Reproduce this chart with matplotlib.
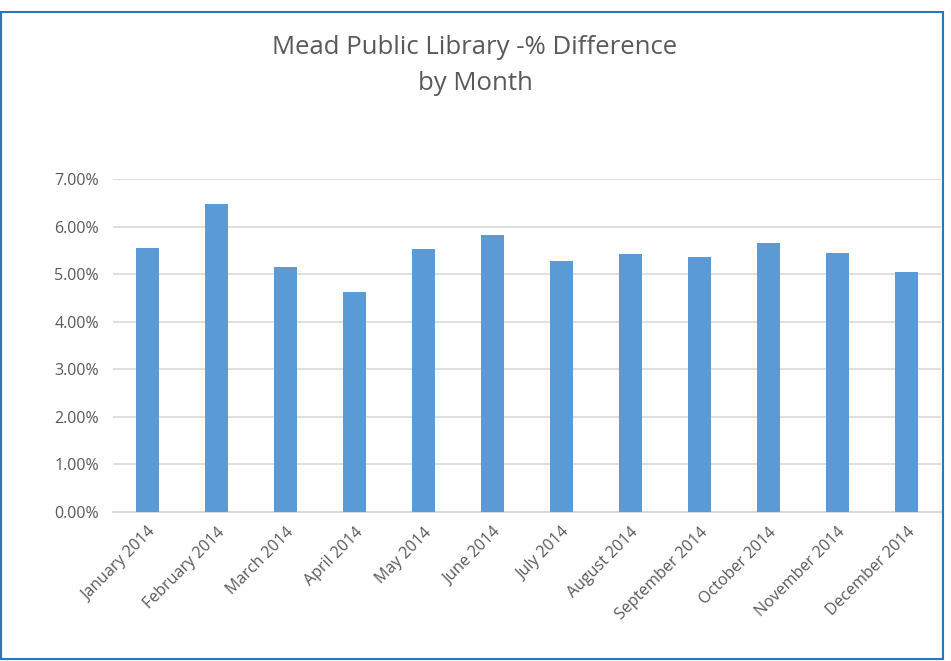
import numpy as np
import matplotlib.pyplot as plt
from matplotlib.patches import Rectangle
from matplotlib.ticker import FuncFormatter

# chart data
months = ['January 2014', 'February 2014', 'March 2014', 'April 2014', 'May 2014', 'June 2014',
          'July 2014', 'August 2014', 'September 2014', 'October 2014', 'November 2014', 'December 2014']
pct_diff = [5.55, 6.47, 5.14, 4.63, 5.53, 5.82, 5.27, 5.42, 5.37, 5.65, 5.45, 5.05]

plt.rcParams['font.family'] = ['Open Sans', 'DejaVu Sans']
text_gray = '#595959'
grid_gray = '#D9D9D9'

fig = plt.figure(figsize=(9.51, 6.61), dpi=100)
ax = fig.add_axes([113 / 951, 1 - 512 / 661, 828 / 951, (512 - 179) / 661])

x = np.arange(len(months))
ax.bar(x, pct_diff, width=0.32, color='#5B9BD5', zorder=3)

ax.set_xlim(-0.5, len(months) - 0.5)
ax.set_ylim(0, 7)
ax.set_yticks(np.arange(0, 8, 1))
ax.yaxis.set_major_formatter(FuncFormatter(lambda v, p: f'{v:.2f}%'))
ax.set_xticks(x)
ax.set_xticklabels(months, rotation=45, ha='right', rotation_mode='anchor')
ax.tick_params(axis='both', length=0, colors=text_gray, labelsize=11.5)
ax.tick_params(axis='y', pad=10)
ax.tick_params(axis='x', pad=9)

ax.grid(axis='y', color=grid_gray, linewidth=1.2, zorder=0)
for side in ['top', 'right', 'left']:
    ax.spines[side].set_visible(False)
ax.spines['bottom'].set_color(grid_gray)
ax.spines['bottom'].set_linewidth(1.5)

fig.text(475 / 951, 1 - 48 / 661, 'Mead Public Library -% Difference', ha='center', va='center',
         fontsize=18.5, color=text_gray)
fig.text(475 / 951, 1 - 84 / 661, 'by Month', ha='center', va='center', fontsize=18.5, color=text_gray)

# outer chart border
fig.patches.append(Rectangle((1 / 951, 1 - 659 / 661), 942 / 951, 647 / 661, transform=fig.transFigure,
                             fill=False, edgecolor='#2E75B6', linewidth=1.5))

fig.savefig('out.png', dpi=100)
